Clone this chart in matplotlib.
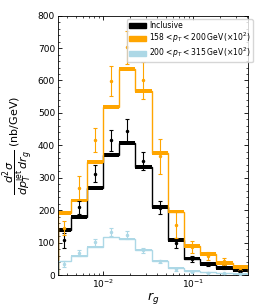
import numpy as np
from matplotlib import pyplot as plt
from matplotlib.patches import Patch
from matplotlib.ticker import MultipleLocator

# r_g bin edges
edges = np.array([0.00316, 0.00437, 0.00658, 0.0100, 0.0151, 0.0228, 0.0349,
                  0.0525, 0.0798, 0.1205, 0.182, 0.278, 0.414])

# model histograms (step lines with thick band)
incl_model = [140, 178, 268, 371, 408, 333, 210, 107, 51, 34, 22, 15]
pt1_model = [191, 230, 349, 519, 635, 568, 376, 196, 90, 66, 37, 24]
pt2_model = [42, 60, 88, 116, 112, 78, 44, 22, 13, 8, 5, 3]

# data points
incl_data = [107, 209, 312, 415, 445, 351, 207, 99, 49, 35, 25, 14]
incl_err = [22, 20, 26, 31, 35, 28, 20, 14, 9, 6, 5, 4]
pt1_data = [145, 270, 416, 599, 702, 601, 366, 155, 86, 58, 42, 22]
pt1_err = [22, 37, 36, 47, 50, 57, 53, 40, 18, 12, 10, 6]
pt2_data = [34, 68, 101, 132, 124, 76, 42, 18, 11, 7, 5, 3]
pt2_err = [9, 8, 10, 12, 12, 8, 6, 4, 3, 2, 2, 1]

labels = ['Inclusive',
          r'$158 < p_T < 200\,\mathrm{GeV}\,(\times 10^2)$',
          r'$200 < p_T < 315\,\mathrm{GeV}\,(\times 10^2)$']
colors = ['black', 'orange', 'lightblue']

fig = plt.figure(figsize=(2.62, 3.06), dpi=100)
ax = fig.add_axes([0.221, 0.101, 0.726, 0.848])

centers = np.sqrt(edges[:-1] * edges[1:])
widths = np.diff(edges)

series = [(incl_model, incl_data, incl_err, 6),
          (pt1_model, pt1_data, pt1_err, 6),
          (pt2_model, pt2_data, pt2_err, 2)]
for (model, data, err, band), c in zip(series, colors):
    model = np.array(model)
    ax.stairs(model, edges, color=c, lw=1.0, zorder=2)
    ax.bar(edges[:-1], 2 * band, width=widths, bottom=model - band,
           align='edge', color=c, lw=0, zorder=2)
    ax.errorbar(centers, data, yerr=err, fmt='o', ms=1.5, color=c,
                elinewidth=0.8, capsize=1.5, capthick=0.8, zorder=3)

ax.set_xscale('log')
ax.set_xlim(0.00316, 0.414)
ax.set_ylim(0, 800)
ax.yaxis.set_major_locator(MultipleLocator(100))
ax.yaxis.set_minor_locator(MultipleLocator(20))
ax.tick_params(which='both', direction='in', top=True, right=True,
               labelsize=6.5)
ax.tick_params(axis='x', pad=2)
ax.tick_params(axis='y', pad=2)
ax.tick_params(which='major', length=3, width=0.6)
ax.tick_params(which='minor', length=1.5, width=0.5)
for s in ax.spines.values():
    s.set_linewidth(0.6)

ax.set_xlabel(r'$r_g$', fontsize=9, labelpad=0)
ax.set_ylabel(r'$\dfrac{d^2\sigma}{dp_T^{\mathrm{jet}}\,dr_g}$ (nb/GeV)',
              fontsize=8, labelpad=1)

handles = [Patch(color=c) for c in colors]
ax.legend(handles, labels, loc='upper right', fontsize=5.5,
          bbox_to_anchor=(253 / 262, 1 - 19 / 306),
          bbox_transform=fig.transFigure,
          handlelength=2.2, handleheight=0.7, borderpad=0.25,
          labelspacing=0.1, handletextpad=0.5, borderaxespad=0,
          framealpha=0.8)

fig.savefig('out.png', dpi=100)
